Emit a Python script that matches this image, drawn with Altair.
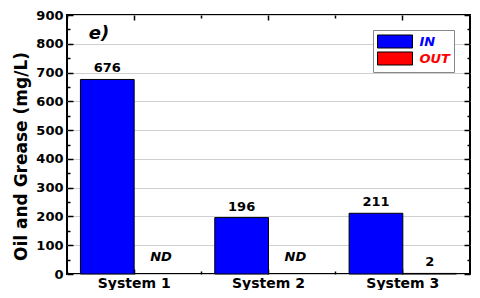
import altair as alt
import pandas as pd

systems = ["System 1", "System 2", "System 3"]
streams = ["IN", "OUT"]
in_values = [676, 196, 211]
out_values = [None, None, 2]          # ND = not detected
in_labels = ["676", "196", "211"]
out_labels = ["ND", "ND", "2"]
y_ticks = list(range(0, 901, 100))
y_minor = list(range(0, 901, 50))

rows = []
for s, v, l in zip(systems, in_values, in_labels):
    rows.append({"system": s, "stream": "IN", "value": v, "label": l})
for s, v, l in zip(systems, out_values, out_labels):
    rows.append({"system": s, "stream": "OUT", "value": v, "label": l})
df = pd.DataFrame(rows)

FONT = "DejaVu Sans"
W, H = 403, 259

xscale = alt.Scale(domain=systems, paddingInner=0.2, paddingOuter=0.1)
yscale = alt.Scale(domain=[0, 900], nice=False, zero=True)
xoff = alt.XOffset("stream:N", scale=alt.Scale(domain=streams, paddingInner=0, paddingOuter=0))

def xenc(axis):
    return alt.X("system:N", scale=xscale, axis=axis, title=None, sort=systems)

def yenc(axis):
    return alt.Y("value:Q", scale=yscale, axis=axis, title=None)

major_cond = {"condition": {"test": "datum.value % 100 === 0", "value": 6}, "value": 3}

base = alt.Chart(df)

bars = base.mark_bar(stroke="black", strokeWidth=1).encode(
    x=xenc(alt.Axis(labelFont=FONT, labelFontWeight="bold", labelFontSize=14,
                    labelColor="black", ticks=False, domain=False, grid=False,
                    labelAngle=0, labelPadding=2)),
    xOffset=xoff,
    y=alt.Y("value:Q", scale=yscale, title="Oil and Grease (mg/L)",
            axis=alt.Axis(values=y_ticks, labelFont=FONT, labelFontWeight="bold",
                          labelFontSize=13, labelColor="black", ticks=False,
                          domain=False, grid=True, gridColor="#d0d0d0", gridWidth=1,
                          labelPadding=4, titleFont=FONT, titleFontWeight="bold",
                          titleFontSize=17, titleColor="black", titlePadding=5,
                          titleY=141)),
    color=alt.Color("stream:N", scale=alt.Scale(domain=streams, range=["#0000FF", "#FF0000"]),
                    legend=alt.Legend(orient="none", legendX=306, legendY=15, title=None,
                                      symbolType="M-2.5,-0.93H2.5V0.93H-2.5Z", symbolSize=196,
                                      symbolStrokeColor="black", symbolStrokeWidth=1,
                                      symbolOpacity=1, symbolOffset=10.5,
                                      labelFont=FONT, labelFontWeight="bold",
                                      labelFontStyle="italic", labelFontSize=13,
                                      labelColor={"expr": "datum.value === 'IN' ? '#0000FF' : '#FF0000'"},
                                      strokeColor="#888888", fillColor="white",
                                      padding=4, rowPadding=-5, labelOffset=17)),
)

value_text = base.transform_filter("datum.label !== 'ND'").mark_text(
    font=FONT, fontWeight="bold", fontSize=13, baseline="bottom", dy=-4, color="black"
).encode(x=xenc(None), xOffset=xoff, y=yenc(None), text="label:N")

nd_text = base.transform_filter("datum.label === 'ND'").mark_text(
    font=FONT, fontWeight="bold", fontStyle="italic", fontSize=13, baseline="bottom",
    dy=-10, color="black"
).encode(x=xenc(None), xOffset=xoff, y=alt.datum(0, scale=yscale, axis=None), text="label:N")

panel = alt.Chart(pd.DataFrame({"t": ["e)"]})).mark_text(
    font=FONT, fontWeight="bold", fontStyle="italic", fontSize=18, color="black"
).encode(text="t:N", x=alt.value(32), y=alt.value(19))

def tick_layer(yorient, yoffset, xorient, xoffset, band):
    return base.mark_bar(opacity=0).encode(
        x=alt.X("system:N", scale=xscale, title=None, sort=systems,
                axis=alt.Axis(orient=xorient, offset=xoffset, labels=False, domain=False,
                              grid=False, tickColor="black", tickWidth=1.5,
                              tickSize=(5 if band == 0.5 else 3), bandPosition=band)),
        xOffset=xoff,
        y=yenc(None if yorient is None else alt.Axis(
            orient=yorient, offset=yoffset, values=y_minor, labels=False, domain=False,
            grid=False, tickColor="black", tickWidth=1.5, tickSize=major_cond)),
    )

t1 = tick_layer("right", -W, "top", -H, 0.5)
t2 = tick_layer("left", -W, "bottom", -H, 0.5)
t3 = tick_layer(None, 0, "top", -H, -0.125)
t4 = tick_layer(None, 0, "bottom", -H, -0.125)

chart = alt.layer(bars, value_text, nd_text, panel, t1, t2, t3, t4).resolve_axis(
    x="independent", y="independent"
).properties(
    width=W, height=H,
    autosize=alt.AutoSizeParams(type="none"),
    padding={"left": 59, "top": 7, "right": 2, "bottom": 16},
).configure_view(stroke="black", strokeWidth=2)

chart.save("out.html", embed_options={"renderer": "svg", "actions": False})
